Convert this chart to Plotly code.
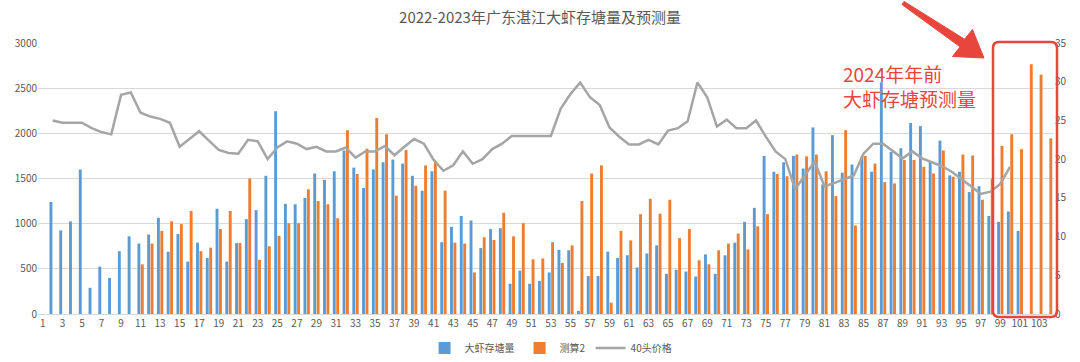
import plotly.graph_objects as go

# ---- data -------------------------------------------------------------
weeks = list(range(1, 105))
tick_labels = [1, 3, 5, 7, 9, 11, 13, 15, 17, 19, 21, 23, 25, 27, 29, 31, 33, 35, 37, 39,
               41, 43, 45, 47, 49, 51, 53, 55, 57, 59, 61, 63, 65, 67, 69, 71, 73, 75, 77,
               79, 81, 83, 85, 87, 89, 91, 93, 95, 97, 99, 101, 103]

stock = [None, 1240, 925, 1025, 1600, 290, 525, 400, 695, 860,
         780, 880, 1065, 690, 885, 580, 790, 620, 1165, 580,
         785, 1050, 1150, 1530, 2245, 1220, 1215, 1285, 1555, 1485,
         1580, 1810, 1620, 1395, 1600, 1680, 1710, 1665, 1530, 1365,
         1580, 795, 965, 1085, 1035, 730, 940, 950, 335, 480,
         335, 365, 460, 710, 705, 35, 420, 420, 690, 620,
         650, 515, 670, 760, 445, 490, 470, 415, 660, 445,
         650, 790, 1020, 1175, 1750, 1575, 1680, 1750, 1610, 2065,
         1435, 1980, 1565, 1655, 1740, 1575, 2565, 1795, 1835, 2115,
         2080, 1685, 1920, 1535, 1575, 1350, 1415, 1085, 1020, 1135,
         920, None, None, None]

estimate2 = [None, None, None, None, None, None, None, None, None, None,
             550, 780, 920, 1025, 995, 1140, 695, 735, 940, 1140,
             785, 1500, 600, 750, 865, 1005, 1005, 1380, 1250, 1215,
             1060, 2035, 1550, 1830, 2170, 1990, 1310, 1815, 1420, 1645,
             1680, 1365, 790, 780, 460, 850, 820, 1120, 860, 1005,
             605, 615, 795, 565, 760, 1250, 1555, 1645, 125, 920,
             815, 1105, 1275, 1110, 1265, 840, 940, 595, 550, 705,
             780, 890, 715, 970, 1105, 1550, 1525, 1765, 1745, 1765,
             1580, 1305, 2035, 980, 1750, 1665, 1460, 1445, 1705, 1705,
             1630, 1555, 1810, 1520, 1765, 1755, 1265, 1495, 1860, 1990,
             1825, 2765, 2650, 1945]

price40 = [None, 25.0, 24.7, 24.7, 24.7, 24.0, 23.5, 23.2, 28.3, 28.6,
           26.0, 25.5, 25.2, 24.7, 21.6, 22.6, 23.6, 22.4, 21.2, 20.8,
           20.7, 22.5, 22.3, 20.0, 21.5, 22.3, 22.0, 21.3, 21.6, 21.0,
           21.0, 21.5, 20.2, 21.0, 21.0, 21.7, 20.5, 21.6, 22.6, 22.0,
           19.9, 18.5, 19.2, 21.0, 19.4, 20.0, 21.3, 22.0, 23.0, 23.0,
           23.0, 23.0, 23.0, 26.5, 28.4, 29.9, 28.0, 27.0, 24.1, 22.9,
           21.9, 21.9, 22.5, 21.9, 23.7, 24.0, 24.9, 29.9, 28.0, 24.2,
           25.1, 24.0, 24.0, 25.0, 22.9, 21.0, 20.0, 16.1, 17.9, 19.7,
           16.5, 16.9, 17.4, 17.9, 20.7, 22.0, 22.0, 21.0, 20.1, 21.0,
           20.1, 19.6, 19.1, 18.4, 17.5, 16.5, 15.5, 15.8, 16.8, 19.0,
           None, None, None, None]

series_names = ["大虾存塘量", "测算2", "40头价格"]
title_text = "2022-2023年广东湛江大虾存塘量及预测量"
note_text = "2024年年前<br>大虾存塘预测量"

# ---- figure -----------------------------------------------------------
W, H = 1080, 362
ML, MR, MT, MB = 38, 26, 43, 48
FONT = "Noto Sans CJK SC, Noto Sans, sans-serif"
GREY_TXT = "#595959"
RED = "#e8453c"

fig = go.Figure()
fig.add_trace(go.Bar(x=weeks, y=stock, name=series_names[0], marker_color="#5b9bd5",
                     marker_line_width=0))
fig.add_trace(go.Bar(x=weeks, y=estimate2, name=series_names[1], marker_color="#ed7d31",
                     marker_line_width=0))
fig.add_trace(go.Scatter(x=weeks, y=price40, name=series_names[2], mode="lines",
                         line=dict(color="#a5a5a5", width=2.5), yaxis="y2"))

pw = W - ML - MR
ph = H - MT - MB


def px_to_paper(px, py):
    return (px - ML) / pw, (H - MB - py) / ph


# rounded red box
x0p, y0p = px_to_paper(993, 317)
x1p, y1p = px_to_paper(1057, 42)
rx, ry = 6 / pw, 6 / ph
box_path = (f"M{x0p + rx},{y0p} L{x1p - rx},{y0p} Q{x1p},{y0p} {x1p},{y0p + ry} "
            f"L{x1p},{y1p - ry} Q{x1p},{y1p} {x1p - rx},{y1p} "
            f"L{x0p + rx},{y1p} Q{x0p},{y1p} {x0p},{y1p - ry} "
            f"L{x0p},{y0p + ry} Q{x0p},{y0p} {x0p + rx},{y0p} Z")

# red arrow polygon (pixel geometry converted to paper)
arrow_px = [(902.0, 4.6), (960.1, 46.8), (952.5, 56.5), (984, 58),
            (972.5, 29.5), (964.5, 39.2), (904.0, 1.4)]
arrow_pts = [px_to_paper(a, b) for a, b in arrow_px]
arrow_path = "M" + " L".join(f"{a},{b}" for a, b in arrow_pts) + " Z"

fig.update_layout(
    width=W, height=H,
    margin=dict(l=ML, r=MR, t=MT, b=MB, pad=0, autoexpand=False),
    paper_bgcolor="white", plot_bgcolor="white",
    font=dict(family=FONT, size=10, color=GREY_TXT),
    title=dict(text=title_text, x=0.5, xanchor="center", y=1 - 18 / H, yanchor="middle",
               font=dict(family=FONT, size=15, color=GREY_TXT)),
    barmode="group", bargap=0.3, bargroupgap=0.15,
    showlegend=True,
    legend=dict(orientation="h", x=0.505, xanchor="center", y=(H - MB - 348) / ph,
                yanchor="middle", font=dict(size=10, color=GREY_TXT),
                itemwidth=30, bgcolor="rgba(0,0,0,0)"),
    xaxis=dict(range=[0.5, 104.5], tickmode="array", tickvals=tick_labels,
               ticktext=[str(t) for t in tick_labels], showgrid=False, automargin=False,
               showline=True, linecolor="#d9d9d9", linewidth=1, ticks="",
               tickfont=dict(size=10, color=GREY_TXT), zeroline=False),
    yaxis=dict(range=[0, 3000], dtick=500, showgrid=True, gridcolor="#d9d9d9",
               automargin=False, gridwidth=1, zeroline=False, ticks="",
               tickfont=dict(size=10, color=GREY_TXT)),
    yaxis2=dict(range=[0, 35], dtick=5, overlaying="y", side="right", showgrid=False,
                automargin=False, zeroline=False, ticks="",
                tickfont=dict(size=10, color=GREY_TXT)),
    shapes=[
        dict(type="path", xref="paper", yref="paper", path=box_path,
             line=dict(color=RED, width=2.5), fillcolor="rgba(0,0,0,0)", layer="above"),
        dict(type="path", xref="paper", yref="paper", path=arrow_path,
             line=dict(color=RED, width=1), fillcolor=RED, layer="above"),
    ],
    annotations=[
        dict(text=note_text, xref="paper", yref="paper",
             x=px_to_paper(841, 0)[0], y=px_to_paper(0, 86)[1],
             xanchor="left", yanchor="middle", align="left", showarrow=False,
             font=dict(family=FONT, size=19, color=RED)),
    ],
)

fig.write_html("out.html", config={"displayModeBar": False},
               post_script="document.body.style.margin='0';document.body.style.overflow='hidden';")
